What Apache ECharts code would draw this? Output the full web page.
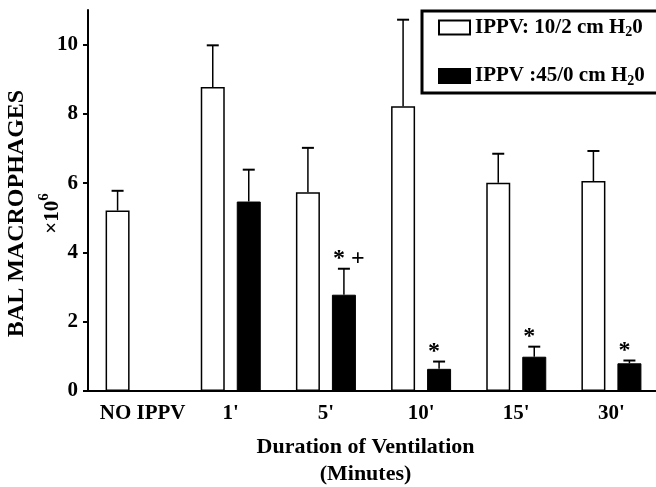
<!DOCTYPE html>
<html><head><meta charset="utf-8">
<script src="https://cdn.jsdelivr.net/npm/echarts@6/dist/echarts.min.js"></script>
<style>html,body{margin:0;padding:0;background:#fff}#c{width:656px;height:487px}</style>
</head><body><div id="c"></div>
<script>
const categories = ['NO IPPV', "1'", "5'", "10'", "15'", "30'"];
const lowPressure = [5.21, 8.78, 5.74, 8.22, 6.01, 6.06];
const lowPressureErr = [0.57, 1.20, 1.28, 2.50, 0.84, 0.87];
const highPressure = [null, 5.47, 2.78, 0.64, 0.99, 0.80];
const highPressureErr = [null, 0.92, 0.75, 0.21, 0.29, 0.08];
const highPressureMarks = ['', '', '* +', '*', '*', '*'];
const yTicks = [0, 2, 4, 6, 8, 10];
const seriesNames = ['IPPV: 10/2 cm H20', 'IPPV :45/0 cm H20'];

const FONT = 'Liberation Serif';
const BAR_W = 24, BAR_GAP = 0.5;
const OFF = BAR_W * (1 + BAR_GAP) / 2;

function errRender(offset) {
  return function (params, api) {
    const i = api.value(0);
    const base = api.coord([i, api.value(1)]);
    const top = api.coord([i, api.value(1) + api.value(2)]);
    const x = base[0] + offset;
    return { type: 'group', children: [
      { type: 'line', shape: { x1: x, y1: base[1], x2: x, y2: top[1] }, style: { stroke: '#000', lineWidth: 1.5 } },
      { type: 'line', shape: { x1: x - 6, y1: top[1], x2: x + 6, y2: top[1] }, style: { stroke: '#000', lineWidth: 2 } }
    ]};
  };
}
function markRender(params, api) {
  const i = api.value(0);
  const top = api.coord([i, api.value(1) + api.value(2)]);
  const txt = highPressureMarks[i];
  return { type: 'text', x: top[0] + OFF - 11, y: top[1] - 10,
    style: { text: txt, fill: '#000', font: 'bold 24px "' + FONT + '"', align: 'left', verticalAlign: 'middle' } };
}
const errLow = lowPressure.map((v, i) => [i, v, lowPressureErr[i]]).filter(d => d[1] != null);
const errHigh = highPressure.map((v, i) => [i, v, highPressureErr[i]]).filter(d => d[1] != null);
const marks = highPressure.map((v, i) => [i, v, highPressureErr[i]]).filter(d => d[1] != null && highPressureMarks[d[0]]);

const labelStyle = { fontFamily: FONT, fontWeight: 'bold', fontSize: 21, color: '#000' };

const chart = echarts.init(document.getElementById('c'));
chart.setOption({
  animation: false,
  backgroundColor: '#fff',
  grid: { left: 88, top: 10, width: 571, bottom: 96, containLabel: false, outerBoundsMode: 'none' },
  legend: {
    data: seriesNames, orient: 'vertical', left: 422, top: 11, icon: 'rect',
    padding: [6, 60, 5, 16], itemGap: 26, itemWidth: 31, itemHeight: 14,
    borderColor: '#000', borderWidth: 3,
    formatter: n => '{t|' + n.slice(0, -2) + '}{s|2}{t|0}',
    textStyle: { fontFamily: FONT, fontWeight: 'bold', fontSize: 21, color: '#000',
      rich: {
        t: { fontFamily: FONT, fontWeight: 'bold', fontSize: 21, lineHeight: 24, color: '#000' },
        s: { fontFamily: FONT, fontWeight: 'bold', fontSize: 14, lineHeight: 13, verticalAlign: 'bottom', color: '#000' }
      } }
  },
  xAxis: {
    type: 'category', data: categories,
    axisLine: { lineStyle: { color: '#000', width: 2 } },
    axisTick: { alignWithLabel: true, length: 5, lineStyle: { color: '#000', width: 2 } },
    axisLabel: { interval: 0, margin: 12, ...labelStyle,
      formatter: (v, i) => i === 0 ? '{n|' + v + '}' : v,
      rich: { n: { ...labelStyle, padding: [0, 0, 0, 14] } } },
    name: 'Duration of Ventilation\n(Minutes)', nameLocation: 'middle', nameGap: 43, nameMoveOverlap: false,
    nameTextStyle: { fontFamily: FONT, fontWeight: 'bold', fontSize: 22, lineHeight: 27, color: '#000', padding: [0, 16, 0, 0] }
  },
  yAxis: {
    type: 'value', min: 0, max: 11, interval: 2,
    splitLine: { show: false },
    axisLine: { show: true, lineStyle: { color: '#000', width: 2 } },
    axisTick: { show: true, length: 5, customValues: yTicks, lineStyle: { color: '#000', width: 2 } },
    axisLabel: { margin: 10, customValues: yTicks, ...labelStyle },
    name: '{a|BAL MACROPHAGES}\n{b|×10}{c|6}', nameLocation: 'middle', nameRotate: 90, nameGap: 19, nameMoveOverlap: false,
    nameTextStyle: { padding: [0, 26, 0, 0], rich: {
      a: { fontFamily: FONT, fontWeight: 'bold', fontSize: 24, lineHeight: 40, color: '#000', align: 'center' },
      b: { fontFamily: FONT, fontWeight: 'bold', fontSize: 21, lineHeight: 32, verticalAlign: 'middle', color: '#000' },
      c: { fontFamily: FONT, fontWeight: 'bold', fontSize: 15, lineHeight: 22, verticalAlign: 'top', color: '#000' }
    } }
  },
  series: [
    { name: seriesNames[0], type: 'bar', data: lowPressure, barWidth: BAR_W, barGap: '50%',
      itemStyle: { color: '#fff', borderColor: '#000', borderWidth: 1.5 } },
    { name: seriesNames[1], type: 'bar', data: highPressure, barWidth: BAR_W,
      itemStyle: { color: '#000', borderColor: '#000', borderWidth: 1 } },
    { type: 'custom', data: errLow, renderItem: errRender(-OFF), z: 5, silent: true },
    { type: 'custom', data: errHigh, renderItem: errRender(OFF), z: 5, silent: true },
    { type: 'custom', data: marks, renderItem: markRender, z: 6, silent: true }
  ]
});
</script></body></html>
